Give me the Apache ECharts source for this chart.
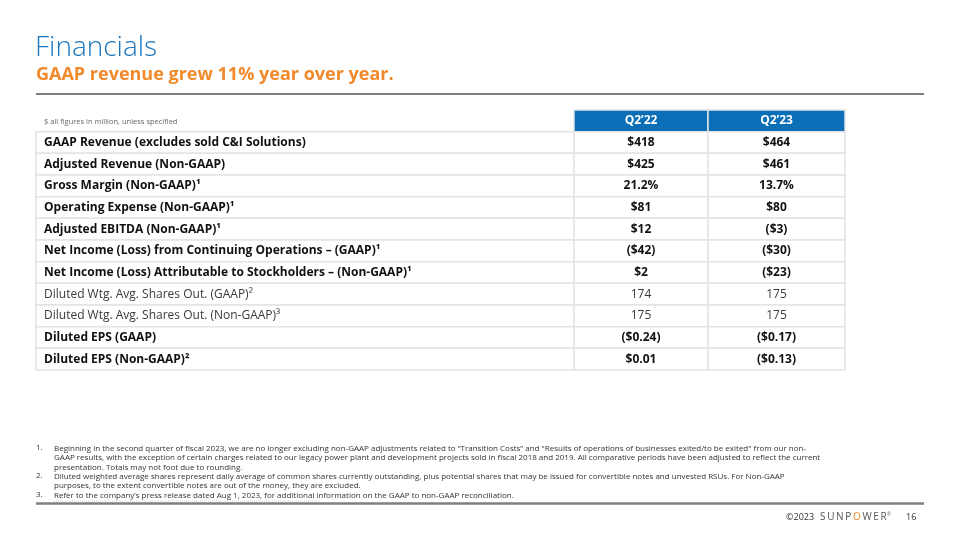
<!DOCTYPE html>
<html><head><meta charset="utf-8">
<script src="https://cdn.jsdelivr.net/npm/echarts@6/dist/echarts.min.js"></script>
<style>html,body{margin:0;padding:0;background:#fff}#c{width:960px;height:540px}</style>
</head><body><div id="c"></div>
<script>
// ---- data ----
const pageTitle = 'Financials';
const subTitle = 'GAAP revenue grew 11% year over year.';
const unitNote = '$ all figures in million, unless specified';
const columns = ['Q2’22', 'Q2’23'];
const rowLabels = [
  'GAAP Revenue (excludes sold C&I Solutions)',
  'Adjusted Revenue (Non-GAAP)',
  'Gross Margin (Non-GAAP)¹',
  'Operating Expense (Non-GAAP)¹',
  'Adjusted EBITDA (Non-GAAP)¹',
  'Net Income (Loss) from Continuing Operations – (GAAP)¹',
  'Net Income (Loss) Attributable to Stockholders – (Non-GAAP)¹',
  'Diluted Wtg. Avg. Shares Out. (GAAP)²',
  'Diluted Wtg. Avg. Shares Out. (Non-GAAP)³',
  'Diluted EPS (GAAP)',
  'Diluted EPS (Non-GAAP)²'
];
const q2_22 = ['$418', '$425', '21.2%', '$81', '$12', '($42)', '$2', '174', '175', '($0.24)', '$0.01'];
const q2_23 = ['$464', '$461', '13.7%', '$80', '($3)', '($30)', '($23)', '175', '175', '($0.17)', '($0.13)'];
const footnotes = [
  'Beginning in the second quarter of fiscal 2023, we are no longer excluding non-GAAP adjustments related to “Transition Costs” and "Results of operations of businesses exited/to be exited" from our non-\nGAAP results, with the exception of certain charges related to our legacy power plant and development projects sold in fiscal 2018 and 2019. All comparative periods have been adjusted to reflect the current\npresentation. Totals may not foot due to rounding.',
  'Diluted weighted average shares represent daily average of common shares currently outstanding, plus potential shares that may be issued for convertible notes and unvested RSUs. For Non-GAAP\npurposes, to the extent convertible notes are out of the money, they are excluded.',
  'Refer to the company’s press release dated Aug 1, 2023, for additional information on the GAAP to non-GAAP reconciliation.'
];
const footerYear = '©2023';
const pageNumber = '16';

// ---- style ----
const regularRows = [7, 8];
const FONT = '"Open Sans", sans-serif';
const BLUE = '#0a6fb7';
const BORDER = '#e4e4e4';

const rowCats = ['header'].concat(rowLabels.map((_, i) => 'r' + i));

const chart = echarts.init(document.getElementById('c'), null, {renderer: 'canvas'});

const grids = [
  {left: 36, width: 538, top: 110, height: 260},
  {left: 574, width: 134, top: 110, height: 260},
  {left: 708, width: 137, top: 110, height: 260}
];
const colNames = ['label'].concat(columns);
const colData = [
  [unitNote].concat(rowLabels),
  [columns[0]].concat(q2_22),
  [columns[1]].concat(q2_23)
];

function makeRender(col) {
  return function (params, api) {
    const row = api.value(1);
    const c = api.coord([0, row]);
    const s = api.size([1, 1]);
    const x0 = c[0] - s[0] / 2, y0 = c[1] - s[1] / 2;
    const text = colData[col][row];
    const children = [];
    const isHeader = row === 0;
    if (!(isHeader && col === 0)) {
      children.push({
        type: 'rect',
        shape: {x: x0, y: y0, width: s[0], height: s[1]},
        style: {fill: isHeader ? BLUE : '#ffffff', stroke: BORDER, lineWidth: 1.5}
      });
    }
    const regular = regularRows.indexOf(row - 1) >= 0;
    let style;
    if (isHeader && col === 0) {
      style = {text: text, x: x0 + 8, y: c[1] + 1, textAlign: 'left', textVerticalAlign: 'middle',
        fill: '#666', fontSize: 7.5, fontFamily: FONT};
    } else if (isHeader) {
      style = {text: text, x: c[0], y: c[1], textAlign: 'center', textVerticalAlign: 'middle',
        fill: '#ffffff', fontSize: 12, fontWeight: 'bold', fontFamily: FONT};
    } else {
      style = {text: text, x: col === 0 ? x0 + 8 : c[0], y: c[1], textAlign: col === 0 ? 'left' : 'center',
        textVerticalAlign: 'middle', fill: regular ? '#3a3a3a' : '#111111',
        fontSize: 12, fontWeight: regular ? 'normal' : 'bold', fontFamily: FONT};
    }
    children.push({type: 'text', style: style});
    return {type: 'group', children: children};
  };
}

const series = colNames.map((name, col) => ({
  type: 'custom',
  name: name,
  xAxisIndex: col,
  yAxisIndex: col,
  renderItem: makeRender(col),
  data: rowCats.map((_, r) => [0, r]),
  encode: {x: 0, y: 1},
  silent: true,
  animation: false
}));

const fnGraphics = [];
const fnY = [444, 472, 491.2];
footnotes.forEach((t, i) => {
  fnGraphics.push({type: 'text', left: 36, top: fnY[i], style: {text: (i + 1) + '.', fill: '#333', font: '8px ' + FONT}});
  fnGraphics.push({type: 'text', left: 54, top: fnY[i], style: {text: t, fill: '#333', font: '8px ' + FONT, lineHeight: 9.4}});
});

chart.setOption({
  animation: false,
  backgroundColor: '#ffffff',
  grid: grids,
  xAxis: grids.map((g, i) => ({type: 'category', gridIndex: i, data: [colNames[i]], show: false})),
  yAxis: grids.map((g, i) => ({type: 'category', gridIndex: i, data: rowCats, inverse: true, show: false})),
  series: series,
  graphic: [
    {type: 'text', left: 35, top: 34, style: {text: pageTitle, fill: '#1b76bc', font: '300 28px ' + FONT}},
    {type: 'text', left: 36, top: 66, style: {text: subTitle, fill: '#f08a2c', font: 'bold 18px ' + FONT}},
    {type: 'line', shape: {x1: 36, y1: 94, x2: 924, y2: 94}, style: {stroke: '#7f7f7f', lineWidth: 2}},
    {type: 'line', shape: {x1: 36, y1: 503.5, x2: 924, y2: 503.5}, style: {stroke: '#7f7f7f', lineWidth: 2.5}},
    {type: 'line', shape: {x1: 54, y1: 501, x2: 319, y2: 501}, style: {stroke: '#bbbbbb', lineWidth: 0.6, lineDash: [1, 1]}},
    ...fnGraphics,
    {type: 'text', left: 786, top: 513, style: {text: footerYear, fill: '#333', font: '9px ' + FONT}},
    {type: 'text', left: 820, top: 512, style: {
      text: '{g|S\u2009U\u2009N\u2009P\u2009}{o|O}{g|\u2009W\u2009E\u2009R}{r|®}',
      rich: {
        g: {fill: '#555', font: '10px ' + FONT},
        o: {fill: '#f08a2c', font: '10px ' + FONT},
        r: {fill: '#777', font: '5px ' + FONT, padding: [0, 0, 5, 0]}
      }
    }},
    {type: 'text', left: 906, top: 513, style: {text: pageNumber, fill: '#333', font: '9px ' + FONT}}
  ]
});
</script>
</body></html>
